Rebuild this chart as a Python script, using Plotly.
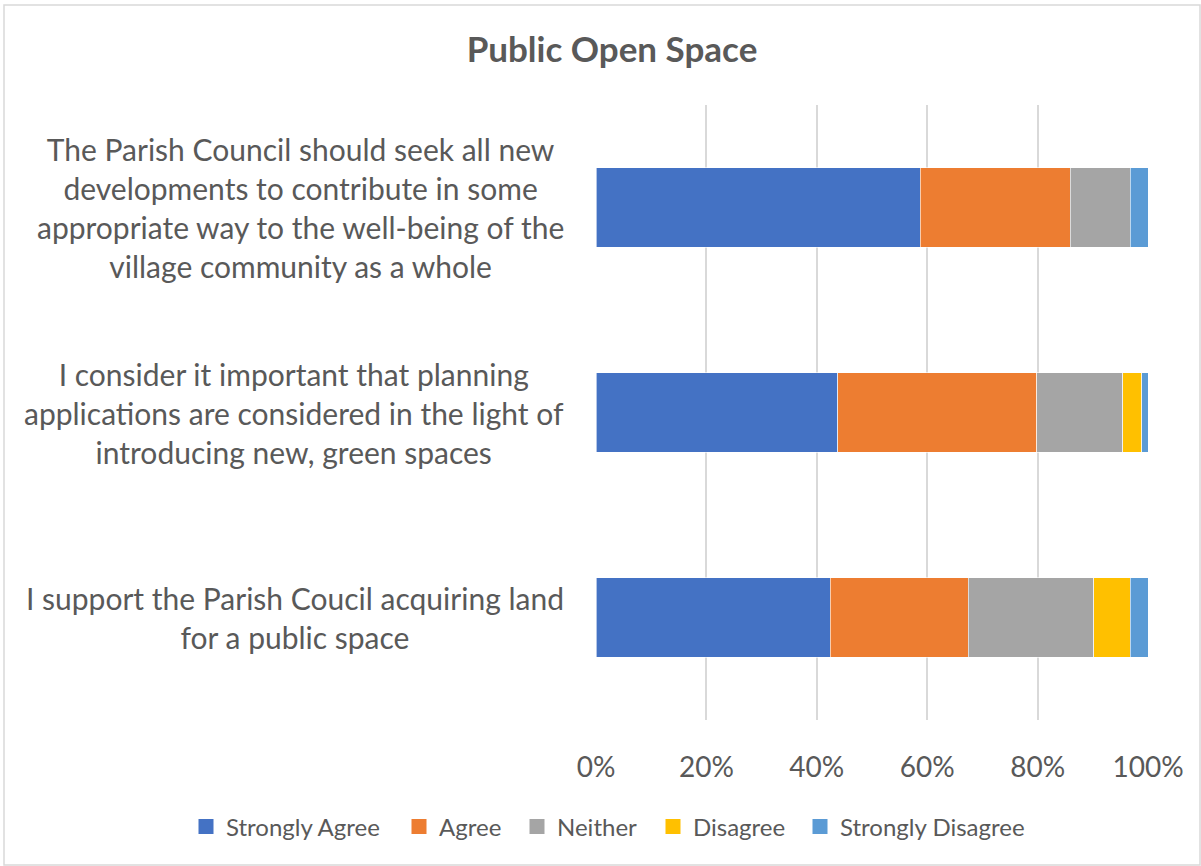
import plotly.graph_objects as go

categories = [
    "The Parish Council should seek all new<br>developments to contribute in some<br>appropriate way to the well-being of the<br>village community as a whole",
    "I consider it important that planning<br>applications are considered in the light of<br>introducing new, green spaces",
    "I support the Parish Coucil acquiring land<br>for a public space",
]
cat_ids = ["Q1", "Q2", "Q3"]
series_names = ["Strongly Agree", "Agree", "Neither", "Disagree", "Strongly Disagree"]
strongly_agree = [58.7, 43.8, 42.4]
agree = [27.2, 36.0, 25.0]
neither = [10.9, 15.6, 22.8]
disagree = [0.0, 3.5, 6.6]
strongly_disagree = [3.2, 1.1, 3.2]
tick_vals = [0, 20, 40, 60, 80, 100]
tick_text = ["0%", "20%", "40%", "60%", "80%", "100%"]

colors = ["#4472C4", "#ED7D31", "#A5A5A5", "#FFC000", "#5B9BD5"]
series = [strongly_agree, agree, neither, disagree, strongly_disagree]
legend_text_px = [186, 399, 517, 653, 800]

FONT = "Lato"
GREY = "#595959"

W, H = 1201, 866
L, R, T, B = 596, 53, 105, 146
pw, ph = W - L - R, H - T - B

fig = go.Figure()
legend_layout = {}
for i, (name, vals, c) in enumerate(zip(series_names, series, colors)):
    lg = "legend" if i == 0 else f"legend{i + 1}"
    fig.add_trace(go.Bar(
        y=cat_ids, x=vals, name=name, orientation="h",
        marker=dict(color=c, line=dict(color="white", width=0.6)),
        showlegend=False, legendgroup=name,
    ))
    fig.add_trace(go.Scatter(
        x=[None], y=[None], mode="markers", name=name, legend=lg, legendgroup=name,
        marker=dict(color=c, symbol="square", size=15),
        showlegend=True, hoverinfo="skip",
    ))
    legend_layout[lg] = dict(
        orientation="h", x=(legend_text_px[i] - L) / pw, xanchor="left",
        y=(H - B - 827) / ph, yanchor="middle",
        font=dict(family=FONT, size=24, color=GREY),
        itemwidth=30, bgcolor="rgba(0,0,0,0)",
    )

annotations = []
for cid, txt in zip(cat_ids, categories):
    annotations.append(dict(
        x=(566 - L) / pw, xref="paper", xanchor="right",
        y=cid, yref="y", yanchor="middle",
        text=txt, showarrow=False, align="center",
        font=dict(family=FONT, size=30, color=GREY),
    ))

fig.update_layout(
    width=W, height=H,
    margin=dict(l=L, r=R, t=T, b=B, autoexpand=False),
    barmode="stack",
    bargap=0.61,
    paper_bgcolor="white", plot_bgcolor="white",
    title=dict(text="<b>Public Open Space</b>", x=612 / W, xanchor="center",
               y=1 - 50 / H, yanchor="middle",
               font=dict(family=FONT, size=35, color=GREY)),
    xaxis=dict(range=[0, 100], tickvals=tick_vals, ticktext=tick_text,
               showgrid=True, gridcolor="#D9D9D9", gridwidth=1.5,
               zeroline=False, showline=False, ticks="",
               tickfont=dict(family=FONT, size=28, color=GREY), ticklabelstandoff=28),
    yaxis=dict(categoryorder="array", categoryarray=cat_ids, autorange="reversed",
               showticklabels=False, showgrid=False, zeroline=False, ticks=""),
    annotations=annotations,
    shapes=[dict(type="rect", xref="paper", yref="paper",
                 x0=(4 - L) / pw, x1=(W - 1 - L) / pw,
                 y0=(H - B - (H - 1)) / ph, y1=(H - B - 5) / ph,
                 line=dict(color="#D9D9D9", width=1.5), fillcolor="rgba(0,0,0,0)", layer="below")],
    **legend_layout,
)

fig.write_html("out.html")
